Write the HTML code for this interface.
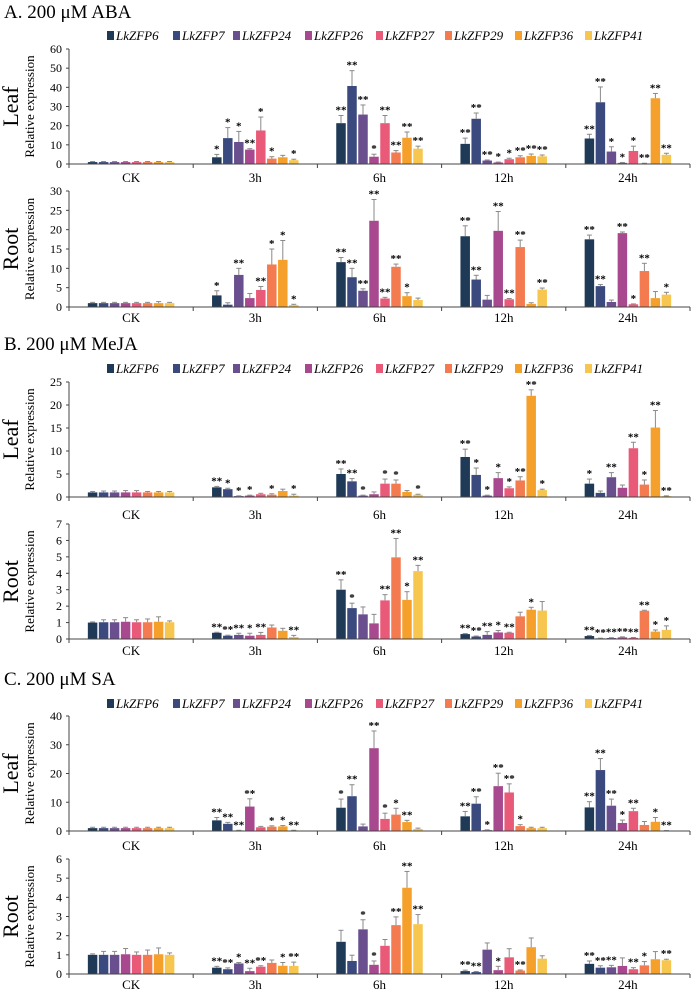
<!DOCTYPE html>
<html><head><meta charset="utf-8"><style>
html,body{margin:0;padding:0;background:#fff;}
svg{display:block;font-family:"Liberation Serif",serif;}
</style></head><body>
<svg id="fig" width="693" height="991" viewBox="0 0 693 991" xmlns="http://www.w3.org/2000/svg"></svg>
<script>
const groups = ["CK","3h","6h","12h","24h"];
const genes = ["LkZFP6","LkZFP7","LkZFP24","LkZFP26","LkZFP27","LkZFP29","LkZFP36","LkZFP41"];
const colors = ["#1f3a56","#3b4a7e","#6a4f8f","#a8488e","#e85a78","#f47a50","#f5a02a","#f7c64f"];

const abaLeafVals = [[1,1,1,1,1,1,1,1],[3.5,13.5,11.5,7.5,17.5,2.8,3.5,2],[21.3,40.7,25.8,3.8,21.3,6,13.7,8],[10.5,23.6,1.8,0.8,2.5,3.5,4.2,4],[13.3,32.2,6.5,0.6,6.8,0.3,34.3,4.8]];
const abaLeafErr = [[0.3,0.3,0.3,0.3,0.3,0.3,0.3,0.3],[1.5,5.5,5.5,0.5,7,1,1,0.5],[4,8,5,1.3,4,1,3,1.3],[3,3,0.3,0.2,0.5,0.8,1,0.7],[2.2,8,2.5,0.2,2.5,0.1,2.5,0.8]];
const abaLeafSig = [["","","","","","","",""],["*","*","*","**","*","*","","*"],["**","**","**","*","**","**","**","**"],["**","**","**","*","*","**","**","**"],["**","**","*","*","*","**","**","**"]];

const abaRootVals = [[1,1,1,1,1,1,1,1],[3,0.6,8.3,2.3,4.4,11,12.2,0.5],[11.6,7.7,4.2,22.3,2.2,10.4,2.8,1.8],[18.3,7.1,1.9,19.7,2,15.5,0.8,4.5],[17.5,5.4,1.3,19.1,0.7,9.3,2.3,3.2]];
const abaRootErr = [[0.2,0.2,0.2,0.2,0.2,0.2,0.4,0.2],[1.2,0.5,1.7,1.2,0.9,4,5,0.2],[1.2,2.3,0.5,5.5,0.3,0.7,0.9,0.5],[2.7,1.1,1.1,5,0.2,1.8,0.3,0.4],[1.1,0.4,0.5,0.3,0.1,2,1.7,0.6]];
const abaRootSig = [["","","","","","","",""],["*","","**","","**","*","*","*"],["**","**","**","**","**","**","*",""],["**","**","","**","**","**","","**"],["**","**","","**","*","**","","*"]];

const mejaLeafVals = [[1,1,1,1,1,1,1,1],[2.1,1.7,0.2,0.3,0.6,0.5,1.3,0.3],[5,3.4,0.3,0.6,2.9,2.9,1.1,0.5],[8.7,4.8,0.3,4.1,1.9,3.6,22,1.5],[2.9,0.9,4.3,2,10.6,2.7,15.1,0.2]];
const mejaLeafErr = [[0.2,0.3,0.3,0.4,0.4,0.2,0.2,0.2],[0.2,0.2,0.05,0.1,0.2,0.2,0.4,0.3],[1.1,0.6,0.1,0.5,1,0.8,0.3,0.1],[1.7,1.5,0.1,1.2,0.3,0.8,1.3,0.2],[1,0.4,1,0.6,1.3,1,3.7,0.05]];
const mejaLeafSig = [["","","","","","","",""],["**","*","*","*","","*","","*"],["**","**","*","","*","*","","*"],["**","*","*","*","*","**","**","*"],["*","","**","","**","*","**","**"]];

const mejaRootVals = [[1,1.02,1.02,1.05,1.02,1.02,1.05,1.02],[0.38,0.2,0.25,0.2,0.25,0.7,0.5,0.12],[3,1.88,1.5,0.95,2.35,4.97,2.38,4.13],[0.3,0.15,0.25,0.4,0.38,1.38,1.78,1.73],[0.18,0.04,0.06,0.1,0.07,1.72,0.45,0.55]];
const mejaRootErr = [[0.04,0.15,0.15,0.25,0.15,0.2,0.3,0.08],[0.03,0.03,0.1,0.15,0.15,0.15,0.15,0.1],[0.6,0.3,0.45,0.55,0.35,1.15,0.5,0.35],[0.03,0.03,0.2,0.12,0.03,0.25,0.15,0.55],[0.03,0.01,0.02,0.03,0.02,0.03,0.1,0.25]];
const mejaRootSig = [["","","","","","","",""],["**","**","**","*","**","","","**"],["**","*","","","**","**","*","**"],["**","**","**","*","**","","*",""],["**","**","**","**","**","**","*","*"]];

const saLeafVals = [[1,1,1,1,1,1,1,1],[3.7,2.5,0.2,8.5,1.3,1.5,1.6,0.2],[8.1,12.1,1.6,28.8,4.2,5.7,3.1,0.7],[5.1,9.5,0.3,15.6,13.4,1.7,1,1],[8.2,21.2,8.8,2.8,6.9,2.1,3.2,0.1]];
const saLeafErr = [[0.3,0.3,0.3,0.3,0.3,0.3,0.3,0.3],[1,0.5,0.05,2.7,0.3,0.3,0.3,0.05],[3,4,0.8,6,2,2.2,0.6,0.3],[1.7,2.4,0.1,4.5,3,0.5,0.3,0.3],[2,4,2.3,1,1,1.2,1.5,0.05]];
const saLeafSig = [["","","","","","","",""],["**","**","**","**","","*","*","**"],["*","**","","**","*","*","**",""],["**","**","*","**","**","*","",""],["**","**","**","*","**","","*","**"]];

const saRootVals = [[1,1,1,1.03,1,1,1.03,1],[0.33,0.25,0.55,0.15,0.38,0.58,0.43,0.42],[1.68,0.68,2.33,0.48,1.47,2.55,4.5,2.6],[0.15,0.1,1.27,0.2,0.87,0.18,1.4,0.8],[0.53,0.33,0.35,0.42,0.25,0.45,0.77,0.72]];
const saRootErr = [[0.05,0.18,0.18,0.3,0.15,0.25,0.33,0.1],[0.07,0.07,0.05,0.15,0.05,0.15,0.17,0.2],[0.6,0.3,0.5,0.2,0.33,0.43,0.85,0.5],[0.05,0.03,0.35,0.2,0.45,0.03,0.48,0.15],[0.15,0.1,0.1,0.42,0.08,0.2,0.4,0.05]];
const saRootSig = [["","","","","","","",""],["**","**","*","**","**","","*","**"],["","","*","*","","**","**","**"],["**","**","","*","","**","",""],["**","**","**","","**","*","","**"]];

const NS = "http://www.w3.org/2000/svg";
const svg = document.getElementById("fig");
function mk(tag, attrs, parent, text){
  const e = document.createElementNS(NS, tag);
  for (const k in attrs) e.setAttribute(k, attrs[k]);
  if (text !== undefined) e.textContent = text;
  (parent || svg).appendChild(e);
  return e;
}
const X0 = 69, X1 = 690, GW = (X1 - X0) / 5, PITCH = 11, BW = 9.5;
function xCenter(g){ return X0 + GW * (g + 0.5); }
function xBar(g, i){ return xCenter(g) - 4 * PITCH + i * PITCH + (PITCH - BW) / 2; }

function title(txt, y, name){
  const t = mk("text", {x:4, y:y, "font-size":"19"}, svg, txt);
  
  
}
function legend(y, name){
  const g = mk("g", {});
  
  
  const xs = [107,173,233,305,376,445,515,585];
  genes.forEach((gn, i) => {
    const e = mk("g", {}, g);
    
    
    mk("rect", {x:xs[i], y:y-8, width:7, height:9, fill:colors[i]}, e);
    mk("text", {x:xs[i]+9, y:y+1, "font-size":"13", "font-style":"italic"}, e, gn);
  });
}
function panel(opts){
  const {name, tissue, y0, yTop, max, step, vals, errs, sigs, labelY} = opts;
  const g = mk("g", {});
  
  
  const sy = v => y0 - (v / max) * (y0 - yTop);
  // y axis
  const ax = mk("line", {x1:X0, y1:yTop, x2:X0, y2:y0, stroke:"#444", "stroke-width":1}, g);
  
  
  for (let v = 0; v <= max + 1e-9; v += step){
    mk("line", {x1:X0-3, y1:sy(v), x2:X0, y2:sy(v), stroke:"#444"}, g);
    const t = mk("text", {x:X0-7, y:sy(v)+4, "font-size":"12", "text-anchor":"end"}, g, String(Math.round(v*10)/10));
    
    
  }
  const yt = mk("text", {x:0, y:0, "font-size":"13", "text-anchor":"middle", transform:`translate(34,${(y0+yTop)/2}) rotate(-90)`}, g, "Relative expression");
  
  
  const tt = mk("text", {x:0, y:0, "font-size":"22", "text-anchor":"middle", transform:`translate(18,${(y0+yTop)/2}) rotate(-90)`}, g, tissue);
  
  
  // bars
  groups.forEach((gr, gi) => {
    for (let i = 0; i < 8; i++){
      const v = vals[gi][i], e = errs[gi][i], s = sigs[gi][i];
      const x = xBar(gi, i), top = sy(v), et = sy(v + e);
      const r = mk("rect", {x:x, y:top, width:BW, height:Math.max(0.6, y0-top), fill:colors[i]}, g);
      
      
      const cx = x + BW/2;
      mk("line", {x1:cx, y1:top, x2:cx, y2:et, stroke:"#8a8a8a", "stroke-width":1}, g);
      mk("line", {x1:cx-2.5, y1:et, x2:cx+2.5, y2:et, stroke:"#8a8a8a", "stroke-width":1}, g);
      if (s){
        const st = mk("text", {x:cx, y:et-2, "font-size":"11", "font-weight":"bold", "text-anchor":"middle"}, g, s);
        
        
      }
    }
    const lb = mk("text", {x:xCenter(gi), y:labelY, "font-size":"13", "text-anchor":"middle"}, g, gr);
    
    
  });
  const xa = mk("line", {x1:X0, y1:y0, x2:X1, y2:y0, stroke:"#444", "stroke-width":1}, g);
  
  
  for (let k = 0; k <= 5; k++) mk("line", {x1:X0+GW*k, y1:y0, x2:X0+GW*k, y2:y0+4, stroke:"#444"}, g);
}

title("A. 200 μM ABA", 18, "panel-a-title");
legend(39, "legend-aba");
panel({name:"aba-leaf-chart", tissue:"Leaf", y0:164, yTop:49, max:60, step:10, vals:abaLeafVals, errs:abaLeafErr, sigs:abaLeafSig, labelY:182});
panel({name:"aba-root-chart", tissue:"Root", y0:307, yTop:191, max:30, step:5, vals:abaRootVals, errs:abaRootErr, sigs:abaRootSig, labelY:322});

title("B. 200 μM MeJA", 350, "panel-b-title");
legend(372, "legend-meja");
panel({name:"meja-leaf-chart", tissue:"Leaf", y0:497, yTop:382, max:25, step:5, vals:mejaLeafVals, errs:mejaLeafErr, sigs:mejaLeafSig, labelY:519});
panel({name:"meja-root-chart", tissue:"Root", y0:639, yTop:524, max:7, step:1, vals:mejaRootVals, errs:mejaRootErr, sigs:mejaRootSig, labelY:655});

title("C. 200 μM SA", 685, "panel-c-title");
legend(707, "legend-sa");
panel({name:"sa-leaf-chart", tissue:"Leaf", y0:831, yTop:716, max:40, step:10, vals:saLeafVals, errs:saLeafErr, sigs:saLeafSig, labelY:850});
panel({name:"sa-root-chart", tissue:"Root", y0:974, yTop:859, max:6, step:1, vals:saRootVals, errs:saRootErr, sigs:saRootSig, labelY:989});
</script>
</body></html>
